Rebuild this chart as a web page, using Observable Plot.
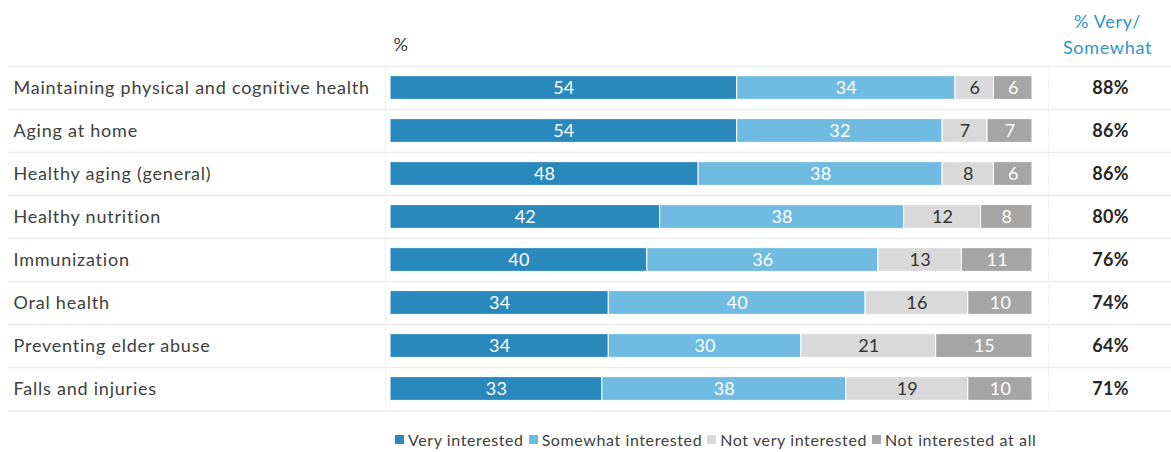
<!DOCTYPE html>
<html><head><meta charset="utf-8">
<script src="https://cdn.jsdelivr.net/npm/d3@7"></script>
<script src="https://cdn.jsdelivr.net/npm/@observablehq/plot@0.6"></script>
<style>
body{margin:0;background:#fff;font-family:Lato,sans-serif;color:#404040;}
#wrap{position:relative;width:1171px;height:452px;overflow:hidden;}
#legend{position:absolute;left:395px;top:428px;height:22px;display:flex;align-items:center;font-size:16px;letter-spacing:0.6px;color:#404040;white-space:nowrap;}
#legend .item{display:flex;align-items:center;margin-right:5px;}
#legend .sw{width:9px;height:9px;margin-right:4px;}
</style></head><body><div id="wrap"></div><script>
const categories = ["Maintaining physical and cognitive health","Aging at home","Healthy aging (general)","Healthy nutrition","Immunization","Oral health","Preventing elder abuse","Falls and injuries"];
const veryInterested = [54,54,48,42,40,34,34,33];
const somewhatInterested = [34,32,38,38,36,40,30,38];
const notVeryInterested = [6,7,8,12,13,16,21,19];
const notInterestedAtAll = [6,7,6,8,11,10,15,10];
const totalVerySomewhat = [88,86,86,80,76,74,64,71];
const seriesNames = ["Very interested","Somewhat interested","Not very interested","Not interested at all"];
const seriesColors = ["#2A89BC","#6FBBE2","#D9D9D9","#A5A5A5"];
const labelColors = ["#ffffff","#ffffff","#333333","#ffffff"];
const headerLeft = "%";
const headerRight = "% Very/\nSomewhat";

const seriesValues = [veryInterested, somewhatInterested, notVeryInterested, notInterestedAtAll];
const rows = [];
categories.forEach((c, i) => seriesValues.forEach((s, k) => rows.push({category: c, series: seriesNames[k], k, value: s[i]})));

const W = 1171, H = 425, ML = 390, MR = 139, MT = 65, MB = 14;
const step = (H - MT - MB) / categories.length;
const barH = 24;
const inset = (step - barH) / 2;
const lineStroke = "#ebebeb";

const plot = Plot.plot({
  width: W, height: H,
  marginLeft: ML, marginRight: MR, marginTop: MT, marginBottom: MB,
  x: {domain: [0, 100], axis: null},
  y: {domain: categories, axis: null, padding: 0},
  color: {type: "identity"},
  style: {fontFamily: "Lato, sans-serif", fontSize: "18px", color: "#404040", background: "white"},
  marks: [
    Plot.ruleY(categories, {y: d => d, dy: -step / 2, stroke: lineStroke, strokeWidth: 1.5, insetLeft: -(ML - 8), insetRight: -MR}),
    Plot.ruleY([categories[categories.length - 1]], {y: d => d, dy: step / 2, stroke: lineStroke, strokeWidth: 1.5, insetLeft: -(ML - 8), insetRight: -MR}),
    Plot.ruleX([0], {dx: -5, stroke: "#ededed", strokeDasharray: "2,1"}),
    Plot.ruleX([100], {dx: 16, stroke: "#ededed", strokeDasharray: "2,1"}),
    Plot.barX(rows, Plot.stackX({x: "value", y: "category", z: "series", order: seriesNames,
      fill: d => seriesColors[d.k], insetTop: inset, insetBottom: inset, stroke: "white", strokeWidth: 1})),
    Plot.text(rows, Plot.stackX({x: "value", y: "category", z: "series", order: seriesNames,
      text: d => String(d.value), fill: d => labelColors[d.k], fontSize: 18})),
    Plot.text(categories, {y: d => d, text: d => d, frameAnchor: "left", textAnchor: "start", dx: -(ML - 13), fill: "#404040", fontSize: 18}),
    Plot.text(categories, {y: d => d, text: (d, i) => totalVerySomewhat[i] + "%", frameAnchor: "right", textAnchor: "middle", dx: 78, fontWeight: "bold", fill: "#262626", fontSize: 18}),
    Plot.text([headerLeft], {text: d => d, frameAnchor: "top-left", textAnchor: "start", lineAnchor: "middle", dx: 3, dy: -20, fill: "#404040", fontSize: 18}),
    Plot.text([headerRight], {text: d => d, frameAnchor: "top-right", textAnchor: "middle", lineAnchor: "middle", dx: 75, dy: -32.5, lineHeight: 1.4, fill: "#2E96CE", fontSize: 18})
  ]
});

// letter spacing per text mark (bar labels, categories, totals, "%", header)
const spacing = [0.2, 0.78, 0.3, 0, 0.7];
d3.select(plot).selectAll('g[aria-label="text"]').each(function(_, i) {
  d3.select(this).style("letter-spacing", spacing[i] + "px");
});

const wrap = document.getElementById("wrap");
wrap.appendChild(plot);
const legend = document.createElement("div");
legend.id = "legend";
seriesNames.forEach((n, k) => {
  const it = document.createElement("div");
  it.className = "item";
  const sw = document.createElement("span");
  sw.className = "sw";
  sw.style.background = seriesColors[k];
  const tx = document.createElement("span");
  tx.textContent = n;
  it.appendChild(sw); it.appendChild(tx);
  legend.appendChild(it);
});
wrap.appendChild(legend);
</script></body></html>
